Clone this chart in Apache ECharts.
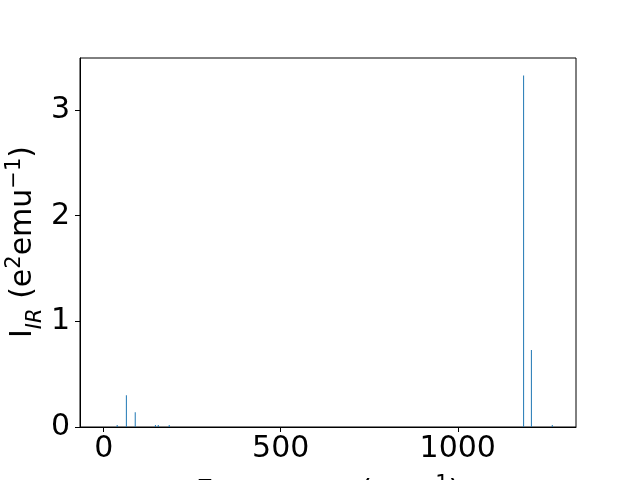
<!DOCTYPE html>
<html>
<head>
<meta charset="utf-8">
<script src="https://cdn.jsdelivr.net/npm/echarts@6/dist/echarts.min.js"></script>
<style>html,body{margin:0;padding:0;background:#fff}#c{width:640px;height:480px}</style>
</head>
<body>
<div id="c"></div>
<script>
const frequencies = [38, 64, 89, 146, 154, 185, 1186, 1208, 1267];
const intensities = [0.02, 0.30, 0.14, 0.02, 0.02, 0.02, 3.327, 0.728, 0.02];
const xTicks = [0, 500, 1000];
const yTicks = [0, 1, 2, 3];

const FONT = 'DejaVu Sans';
const FS = 30;
const SFS = 21;
const chart = echarts.init(document.getElementById('c'), null, {renderer: 'canvas'});
chart.setOption({
  animation: false,
  backgroundColor: '#ffffff',
  grid: {left: 80, right: 64, top: 58, bottom: 53, show: true, borderColor: '#000', borderWidth: 1, backgroundColor: 'transparent'},
  xAxis: {
    type: 'value', min: -67, max: 1334,
    splitLine: {show: false},
    axisLine: {show: true, onZero: false, lineStyle: {color: '#000', width: 1}},
    axisTick: {show: true, length: 5, customValues: xTicks, lineStyle: {color: '#000'}},
    axisLabel: {customValues: xTicks, color: '#000', fontFamily: FONT, fontSize: FS, margin: 7, formatter: v => String(v)}
  },
  yAxis: {
    type: 'value', min: 0, max: 3.493,
    splitLine: {show: false},
    axisLine: {show: true, onZero: false, lineStyle: {color: '#000', width: 1}},
    axisTick: {show: true, length: 5, customValues: yTicks, lineStyle: {color: '#000'}},
    axisLabel: {customValues: yTicks, color: '#000', fontFamily: FONT, fontSize: FS, margin: 10, formatter: v => String(v)}
  },
  series: [{
    type: 'bar',
    barWidth: 1,
    itemStyle: {color: '#1f77b4'},
    data: frequencies.map((f, i) => [f, intensities[i]])
  }],
  graphic: [
    {
      type: 'text', x: 23, y: 242, rotation: Math.PI / 2,
      style: {
        text: '{n|I}{s|IR}{n| (e}{p|2}{n|emu}{p|−1}{n|)}',
        align: 'center', verticalAlign: 'middle',
        fill: '#000',
        rich: {
          n: {fontFamily: FONT, fontSize: FS, fill: '#000', lineHeight: 38},
          s: {fontFamily: FONT, fontSize: SFS, fontStyle: 'italic', fill: '#000', verticalAlign: 'bottom', lineHeight: 38, padding: [0,0,-4,0]},
          p: {fontFamily: FONT, fontSize: SFS, fill: '#000', verticalAlign: 'top', lineHeight: 38}
        }
      }
    },
    {
      type: 'text', x: 328, y: 474,
      style: {
        text: '{n|Frequency (cm}{p|−1}{n|)}',
        align: 'center', verticalAlign: 'top',
        fill: '#000',
        rich: {
          n: {fontFamily: FONT, fontSize: FS, fill: '#000', lineHeight: 38},
          p: {fontFamily: FONT, fontSize: SFS, fill: '#000', verticalAlign: 'top', lineHeight: 38}
        }
      }
    }
  ]
});
</script>
</body>
</html>
